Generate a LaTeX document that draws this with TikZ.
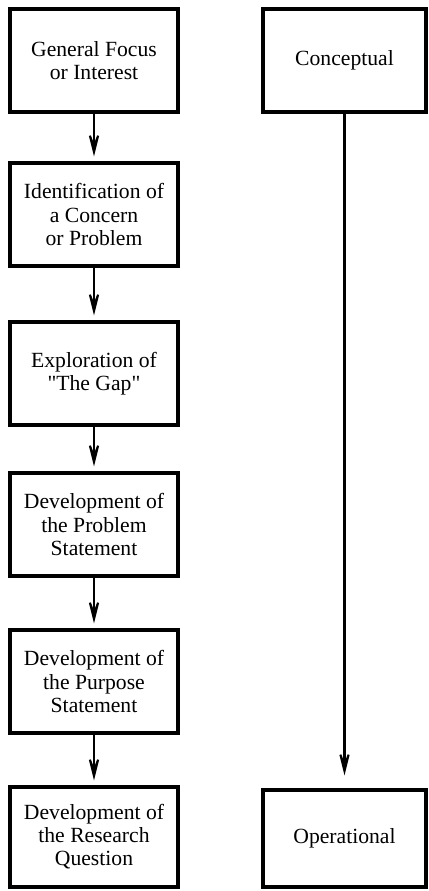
\documentclass[tikz,border=0pt]{standalone}
\usepackage{fontspec}
\setmainfont{Liberation Serif}
\usepackage{tikz}
\usetikzlibrary{arrows.meta,positioning}

\tikzset{
    flowtip/.tip={Stealth[length=28pt, width=14pt, inset=19pt, line width=1.5pt]},
}

\begin{document}
\begin{tikzpicture}[
    stagebox/.style={draw, line width=2.5pt, rectangle, align=center,
        minimum width=4.2cm, minimum height=2.575cm, inner sep=0pt,
        font=\fontsize{15.4pt}{16.4pt}\selectfont},
    sidebox/.style={stagebox, minimum width=4.075cm},
    flowarrow/.style={line width=2.1pt, -flowtip}
]
    \useasboundingbox (0,0) rectangle (10.7,-22.275);

    % left column
    \node[stagebox] (focus)    at (2.35,-1.5125)  {General Focus\\or Interest};
    \node[stagebox] (concern)  at (2.35,-5.3625)  {Identification of\\a Concern\\or Problem};
    \node[stagebox] (gap)      at (2.35,-9.3375)  {Exploration of\\\textquotedbl The Gap\textquotedbl};
    \node[stagebox] (problem)  at (2.35,-13.1125) {Development of\\the Problem\\Statement};
    \node[stagebox] (purpose)  at (2.35,-17.0375) {Development of\\the Purpose\\Statement};
    \node[stagebox, minimum height=2.5cm] (question) at (2.35,-20.925) {Development of\\the Research\\Question};

    % right column
    \node[sidebox] (concept) at (8.6125,-1.5125)  {Conceptual};
    \node[sidebox, minimum height=2.425cm] (operate) at (8.6125,-20.9625) {Operational};

    % arrows
    \draw[flowarrow, shorten >=0.12cm] (focus) -- (concern);
    \draw[flowarrow, shorten >=0.12cm] (concern) -- (gap);
    \draw[flowarrow, shorten >=0.12cm] (gap) -- (problem);
    \draw[flowarrow, shorten >=0.12cm] (problem) -- (purpose);
    \draw[flowarrow, shorten >=0.12cm] (purpose) -- (question);
    \draw[flowarrow, shorten >=0.32cm] (concept) -- (operate);
\end{tikzpicture}
\end{document}
